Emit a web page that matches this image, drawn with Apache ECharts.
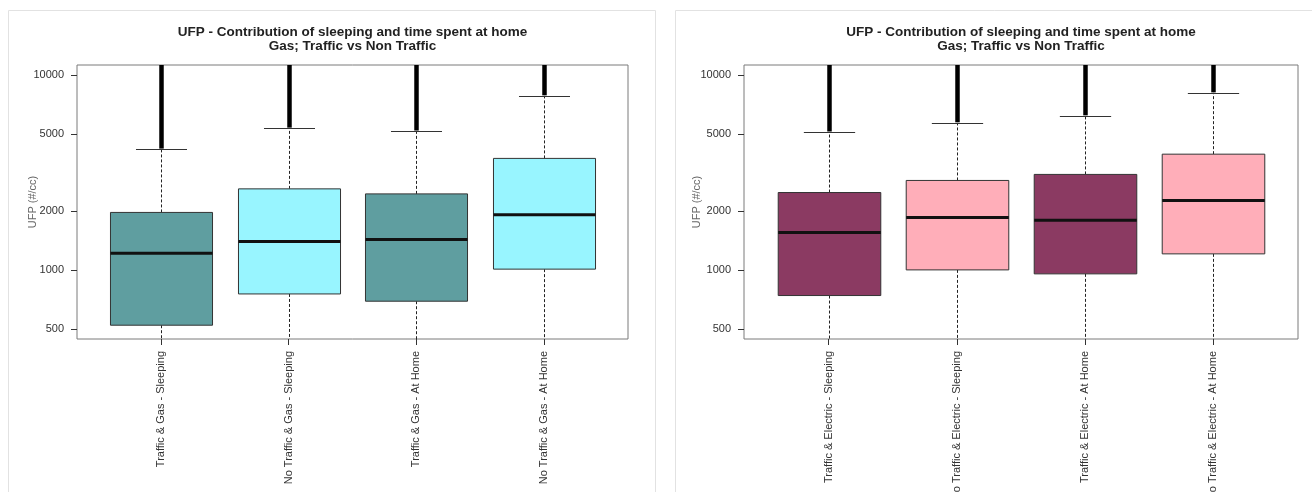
<!DOCTYPE html>
<html>
<head>
<meta charset="utf-8">
<script src="https://cdn.jsdelivr.net/npm/echarts@6/dist/echarts.min.js"></script>
<style>
  html, body { margin: 0; padding: 0; background: #ffffff; }
  #chart { width: 1312px; height: 492px; }
</style>
</head>
<body>
<div id="chart"></div>
<script>
// ---------- data ----------
const titleLine1 = 'UFP - Contribution of sleeping and time spent at home';
const titleLine2 = 'Gas; Traffic vs Non Traffic';
const yAxisName = 'UFP (#/cc)';
const yTicks = [500, 1000, 2000, 5000, 10000];

const gasCategories = ['Traffic & Gas - Sleeping', 'No Traffic & Gas - Sleeping', 'Traffic & Gas - At Home', 'No Traffic & Gas - At Home'];
const gasLowerWhisker = [220, 260, 240, 320];
const gasQ1 = [522, 755, 693, 1012];
const gasMedian = [1222, 1403, 1436, 1921];
const gasQ3 = [1977, 2611, 2461, 3742];
const gasUpperWhisker = [4175, 5347, 5163, 7830];
const gasOutlierMin = [4200, 5380, 5200, 7880];
const gasOutlierMax = [30000, 30000, 30000, 30000];

const elecCategories = ['Traffic & Electric - Sleeping', 'No Traffic & Electric - Sleeping', 'Traffic & Electric - At Home', 'No Traffic & Electric - At Home'];
const elecLowerWhisker = [260, 300, 290, 350];
const elecQ1 = [741, 1003, 957, 1212];
const elecMedian = [1560, 1863, 1804, 2276];
const elecQ3 = [2501, 2884, 3097, 3934];
const elecUpperWhisker = [5106, 5690, 6180, 8112];
const elecOutlierMin = [5140, 5730, 6220, 8160];
const elecOutlierMax = [30000, 30000, 30000, 30000];

const gasColors = ['#5F9EA0', '#98F5FF', '#5F9EA0', '#98F5FF'];
const elecColors = ['#8B3A62', '#FFAEB9', '#8B3A62', '#FFAEB9'];

// ---------- helpers ----------
const FONT = "'Liberation Sans', Arial, Helvetica, sans-serif";
const lg = v => Math.log10(v);
const yLo = lg(yTicks[0]), yHi = lg(yTicks[yTicks.length - 1]);
const yPad = 0.04 * (yHi - yLo);
const yMin = yLo - yPad, yMax = yHi + yPad;
const nCat = gasCategories.length;
const xMin = 0.5 - 0.04 * nCat, xMax = nCat + 0.5 + 0.04 * nCat;
const catPos = gasCategories.map((c, i) => i + 1);

function buildData(lw, q1, med, q3, uw, omin, omax) {
  return lw.map((_, i) => [i + 1, lg(lw[i]), lg(q1[i]), lg(med[i]), lg(q3[i]), lg(uw[i]), lg(omin[i]), lg(omax[i])]);
}

function makeRender(colors) {
  return function (params, api) {
    const cs = params.coordSys;
    const top = cs.y, bottom = cs.y + cs.height;
    const clampY = v => Math.max(top, Math.min(bottom, v));
    const xv = api.value(0);
    const yOf = v => clampY(api.coord([xv, v])[1]);
    const cx = Math.round(api.coord([xv, yMin])[0]) + 0.5;
    const halfW = api.size([0.8, 0])[0] / 2;
    const capHalf = halfW / 2;
    const yLW = yOf(api.value(1)), yQ1 = yOf(api.value(2)), yMed = yOf(api.value(3)),
          yQ3 = yOf(api.value(4)), yUW = yOf(api.value(5)), yOmin = yOf(api.value(6)), yOmax = yOf(api.value(7));
    const dash = { stroke: '#222', lineWidth: 1, lineDash: [3, 2] };
    const children = [
      { type: 'line', shape: { x1: cx, y1: yQ3, x2: cx, y2: yUW }, style: dash },
      { type: 'line', shape: { x1: cx, y1: yQ1, x2: cx, y2: yLW }, style: dash },
      { type: 'line', shape: { x1: cx - capHalf, y1: Math.round(yUW) + 0.5, x2: cx + capHalf, y2: Math.round(yUW) + 0.5 }, style: { stroke: '#333', lineWidth: 1 } },
      { type: 'line', shape: { x1: cx, y1: yOmin, x2: cx, y2: yOmax }, style: { stroke: '#000', lineWidth: 4.5 } },
      { type: 'rect', shape: { x: cx - halfW, y: yQ3, width: 2 * halfW, height: yQ1 - yQ3 }, style: { fill: colors[params.dataIndex], stroke: '#333', lineWidth: 1 } },
      { type: 'line', shape: { x1: cx - halfW, y1: yMed, x2: cx + halfW, y2: yMed }, style: { stroke: '#111', lineWidth: 3 } }
    ];
    if (yLW < bottom - 1) {
      children.push({ type: 'line', shape: { x1: cx - capHalf, y1: yLW, x2: cx + capHalf, y2: yLW }, style: { stroke: '#333', lineWidth: 1 } });
    }
    return { type: 'group', children };
  };
}

const grids = [
  { left: 77, top: 65, width: 551, height: 274 },
  { left: 744, top: 65, width: 554, height: 274 }
];

function xAxisFor(idx, cats) {
  return {
    type: 'value', gridIndex: idx, min: xMin, max: xMax,
    axisLine: { show: false },
    splitLine: { show: false },
    axisTick: { show: true, customValues: catPos, length: 6, lineStyle: { color: '#333', width: 1 } },
    axisLabel: {
      customValues: catPos, rotate: 90, margin: 12, fontSize: 11, fontFamily: FONT, color: '#333',
      formatter: v => cats[Math.round(v) - 1]
    }
  };
}
function yAxisFor(idx, gap) {
  return {
    type: 'value', gridIndex: idx, min: yMin, max: yMax,
    axisLine: { show: false },
    splitLine: { show: false },
    axisTick: { show: true, customValues: yTicks.map(lg), length: 6, lineStyle: { color: '#333', width: 1 } },
    axisLabel: {
      customValues: yTicks.map(lg), margin: 13, fontSize: 11, fontFamily: FONT, color: '#333',
      formatter: v => String(Math.round(Math.pow(10, v)))
    },
    name: yAxisName, nameLocation: 'middle', nameGap: gap, nameMoveOverlap: false,
    nameTextStyle: { fontSize: 11, fontFamily: FONT, color: '#666' }
  };
}

function titleTexts(cx) {
  return [
    { type: 'text', x: cx, y: 32.5, z: 10, style: { text: titleLine1, align: 'center', verticalAlign: 'middle', font: 'bold 13.5px ' + FONT, fill: '#222' } },
    { type: 'text', x: cx, y: 46.5, z: 10, style: { text: titleLine2, align: 'center', verticalAlign: 'middle', font: 'bold 13.5px ' + FONT, fill: '#222' } }
  ];
}

const option = {
  animation: false,
  backgroundColor: '#ffffff',
  graphic: [
    { type: 'rect', z: -10, shape: { x: 8.5, y: 10.5, width: 647, height: 490 }, style: { fill: '#fff', stroke: '#e2e2e2', lineWidth: 1 } },
    { type: 'rect', z: -10, shape: { x: 675.5, y: 10.5, width: 645, height: 490 }, style: { fill: '#fff', stroke: '#e2e2e2', lineWidth: 1 } },
    ...titleTexts(352.5),
    ...titleTexts(1021)
  ],
  grid: grids.map(g => Object.assign({ show: true, borderColor: '#7a7a7a', borderWidth: 1, backgroundColor: 'transparent', containLabel: false, outerBoundsMode: 'none' }, g)),
  xAxis: [xAxisFor(0, gasCategories), xAxisFor(1, elecCategories)],
  yAxis: [yAxisFor(0, 39), yAxisFor(1, 42)],
  series: [
    {
      type: 'custom', xAxisIndex: 0, yAxisIndex: 0,
      renderItem: makeRender(gasColors),
      encode: { x: 0, y: [1, 2, 3, 4, 5, 6, 7] },
      data: buildData(gasLowerWhisker, gasQ1, gasMedian, gasQ3, gasUpperWhisker, gasOutlierMin, gasOutlierMax)
    },
    {
      type: 'custom', xAxisIndex: 1, yAxisIndex: 1,
      renderItem: makeRender(elecColors),
      encode: { x: 0, y: [1, 2, 3, 4, 5, 6, 7] },
      data: buildData(elecLowerWhisker, elecQ1, elecMedian, elecQ3, elecUpperWhisker, elecOutlierMin, elecOutlierMax)
    }
  ]
};

const chart = echarts.init(document.getElementById('chart'), null, { renderer: 'canvas' });
chart.setOption(option);
</script>
</body>
</html>
